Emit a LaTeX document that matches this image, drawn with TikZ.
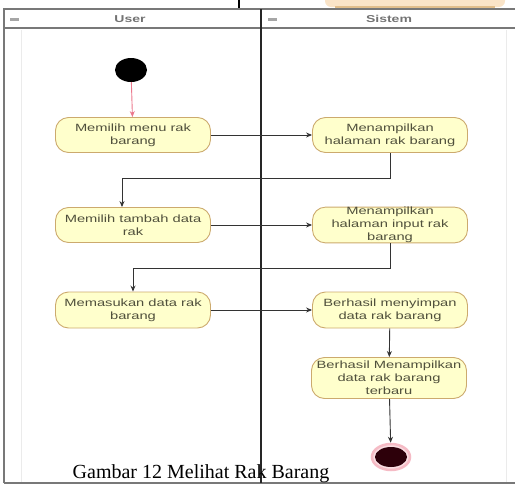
\documentclass[tikz,border=0pt]{standalone}
\usepackage{fontspec}
\setmainfont{Liberation Serif}
\newfontfamily\actfont[FakeStretch=1.4]{Liberation Sans}
\usetikzlibrary{shapes.geometric, arrows.meta, positioning, calc}

\definecolor{actfill}{RGB}{255,255,204}
\definecolor{actline}{RGB}{204,170,110}
\definecolor{acttext}{RGB}{80,80,60}
\definecolor{startred}{RGB}{235,120,140}
\definecolor{lanegray}{RGB}{120,120,120}
\definecolor{peach}{RGB}{250,228,200}
\definecolor{peachline}{RGB}{225,190,140}
\definecolor{enddark}{RGB}{45,0,10}

\begin{document}
\begin{tikzpicture}[
    x=1pt, y=-1pt,
    action/.style = {
        rectangle, rounded corners=13pt,
        draw=actline, fill=actfill, line width=0.9pt,
        minimum width=155pt, minimum height=35pt,
        align=center, inner sep=0pt, text=acttext,
        font=\actfont\fontsize{10.5}{13}\selectfont
    },
    lanehead/.style = {font=\actfont\fontsize{10}{11}\selectfont\bfseries, text=black!55},
    arrow/.style = {-{Stealth[length=6pt, width=5pt]}, line width=0.9pt, black!80}
]
\useasboundingbox (0,0) rectangle (515,485);

% Potongan di atas
\fill[peach, rounded corners=6pt] (325,-10) rectangle (505,7);
\draw[line width=1.2pt, peachline] (335,7) -- (495,7);
\draw[line width=1.5pt, black] (239,0) -- (239,8);

% Swimlane
\draw[line width=1.4pt, lanegray] (4,483) -- (4,9) -- (515,9);
\draw[line width=1.4pt, lanegray] (4,28) -- (515,28);
\draw[line width=1.4pt, lanegray] (4,483) -- (515,483);
\draw[line width=0.6pt, black!8] (21,30) -- (21,482);
\draw[line width=0.6pt, black!8] (506,30) -- (506,482);
\draw[line width=2pt, black!85] (261,9) -- (261,483);
\fill[black!35] (10,18) rectangle (19,21);
\fill[black!35] (268,18) rectangle (277,21);
\node[lanehead] (user)   at (130,19) {User};
\node[lanehead] (sistem) at (389,19) {Sistem};

% Node awal
\node[ellipse, fill=black, minimum width=32pt, minimum height=24pt, inner sep=0pt] (start) at (131,70) {};

% Aktivitas
\node[action] (a1) at (133,135) {Memilih menu rak\\barang};
\node[action] (a2) at (390,135) {Menampilkan\\halaman rak barang};
\node[action] (a3) at (133,225) {Memilih tambah data\\rak};
\node[action] (a4) at (390,225) {Menampilkan\\halaman input rak\\barang};
\node[action, minimum height=36pt] (a5) at (133,310) {Memasukan data rak\\barang};
\node[action, minimum height=36pt] (a6) at (390,310) {Berhasil menyimpan\\data rak barang};
\node[action, minimum height=41pt] (a7) at (389,378) {Berhasil Menampilkan\\data rak barang\\terbaru};

% Node akhir
\node[ellipse, draw=startred!50, line width=2.5pt, fill=startred!25, minimum width=38pt, minimum height=26pt, inner sep=0pt] (end) at (391,457) {};
\node[ellipse, fill=enddark, minimum width=32pt, minimum height=20pt, inner sep=0pt] (endin) at (391,457) {};

% Titik belok
\coordinate (k1) at (122,178);
\coordinate (k2) at (133,268);

% Panah
\draw[-{Stealth[length=6pt, width=5pt]}, line width=0.9pt, startred] (start) -- (a1);
\draw[arrow] (a1) -- (a2);
\draw[arrow] (a2.south) |- (k1) -- (a3.north -| k1);
\draw[arrow] (a3) -- (a4);
\draw[arrow] (a4.south) |- (k2) -- (a5.north -| k2);
\draw[arrow] (a5) -- (a6);
\draw[arrow] (a6) -- (a7);
\draw[arrow] (a7) -- (end);

% Keterangan
\node[anchor=base, font=\fontsize{20}{24}\selectfont, inner sep=0pt] (caption) at (201,478) {Gambar 12 Melihat Rak Barang};

\end{tikzpicture}
\end{document}
